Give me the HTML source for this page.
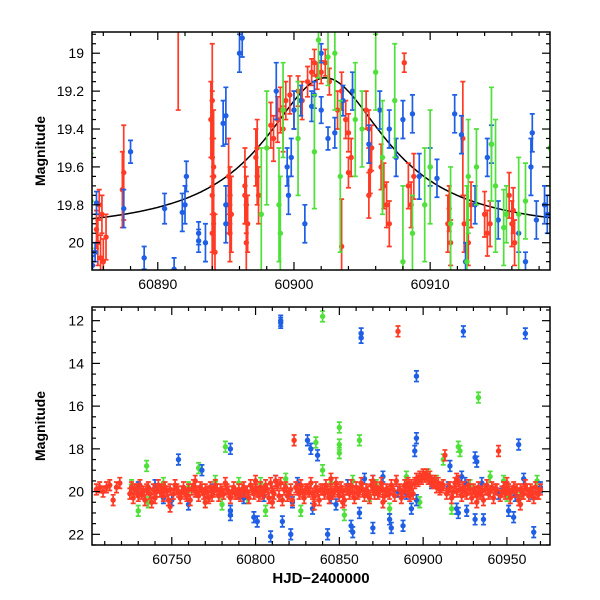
<!DOCTYPE html>
<html><head><meta charset="utf-8"><style>
html,body{margin:0;padding:0;background:#fff;}
svg{display:block;font-family:"Liberation Sans",sans-serif;}
</style></head><body>
<svg id="chart" width="600" height="600" viewBox="0 0 600 600">
<defs>
<clipPath id="clipTop"><rect x="92" y="32" width="458" height="238"/></clipPath>
<clipPath id="clipBot"><rect x="92" y="307" width="458" height="238"/></clipPath>
</defs>
<g id="top"></g>
<g id="bot"></g>
</svg>
<script>
// ---- Top panel data [t, mag, err] ----
const topRed = [[60885.5,19.93,0.1],[60885.6,20.0,0.12],[60885.8,20.08,0.12],[60885.9,19.85,0.1],[60886,20.1,0.12],[60886.2,19.97,0.12],[60885.7,19.8,0.08],
[60887.4,19.72,0.2],[60887.5,19.63,0.25],[60891.5,18.85,0.45],
[60893.9,19.35,0.2],[60894,19.45,0.25],[60894,19.55,0.3],[60894.1,19.65,0.2],[60894,19.75,0.3],[60894.1,19.85,0.2],[60894,19.95,0.3],[60894.2,20.05,0.2],[60894,19.25,0.3],[60894.1,19.6,0.3],
[60895.2,19.65,0.2],[60895.3,19.75,0.15],[60895.4,19.85,0.2],[60895.3,19.95,0.15],[60895.2,19.8,0.15],
[60896.4,19.7,0.2],[60896.5,19.8,0.15],[60896.6,19.9,0.15],[60896.5,20.0,0.2],[60896.4,19.75,0.15],
[60897.2,19.55,0.15],[60897.3,19.65,0.15],[60897.4,19.75,0.15],[60897.3,19.5,0.15],
[60898.3,19.38,0.12],[60898.5,19.45,0.12],[60898.8,19.35,0.12],[60899,19.3,0.12],[60899.2,19.4,0.12],[60899.4,19.25,0.1],
[60900,19.3,0.1],[60900.3,19.2,0.08],[60900.6,19.25,0.1],[60901,19.15,0.08],[60901.3,19.1,0.07],[60901.5,19.05,0.07],[60901.7,19.12,0.07],[60902,19.1,0.06],[60902.3,19.05,0.07],[60902.6,19.15,0.07],[60899.7,19.22,0.1],
[60903.2,19.3,0.1],[60903.5,19.2,0.1],[60903.8,19.35,0.1],[60904,19.42,0.1],[60904.2,19.55,0.1],[60904,19.63,0.08],[60903.5,20.02,0.25],
[60905.3,19.3,0.1],[60905.5,19.4,0.1],[60905.7,19.5,0.12],[60905.6,19.62,0.12],[60905.5,19.75,0.12],
[60906.4,19.6,0.12],[60906.6,19.7,0.12],[60906.8,19.8,0.12],[60907,19.9,0.12],[60908.1,19.05,0.05],
[60908.4,19.7,0.12],[60908.6,19.8,0.12],[60908.8,19.65,0.12],[60912.4,19.45,0.3],
[60911.3,19.9,0.15],[60911.5,20.0,0.12],[60911.4,19.82,0.12],[60912.5,19.9,0.15],[60912.8,20.0,0.12],[60913,19.8,0.12],
[60914,19.85,0.12],[60914.2,19.95,0.12],[60914.4,19.9,0.12],[60915.8,19.75,0.12],[60916,19.9,0.12],[60916.2,20.0,0.12],[60916.1,19.83,0.12]];
const topBlue = [[60885.2,20.12,0.05],[60885.4,20.05,0.05],[60885.5,19.79,0.06],[60887.5,19.82,0.1],[60888,19.52,0.06],[60890.5,19.82,0.08],[60891.8,19.84,0.1],[60892,19.8,0.1],[60892.1,19.65,0.08],[60893,19.95,0.06],[60893,19.99,0.06],[60893.5,20.0,0.1],[60891.2,20.14,0.06],[60889,20.08,0.06],[60894.8,19.37,0.12],[60895,19.33,0.15],[60895,19.8,0.1],[60895,19.9,0.1],[60896,19.0,0.1],[60896.2,18.92,0.1],[60898.7,19.2,0.15],[60899.5,19.6,0.1],[60899.6,19.75,0.1],[60899.8,19.55,0.1],[60900,19.3,0.1],[60900.5,19.25,0.08],[60901.3,19.28,0.08],[60901.5,19.22,0.07],[60902,19.3,0.07],[60902.5,19.45,0.06],[60902,19.0,0.05],[60903,19.42,0.08],[60903.6,19.25,0.08],[60904.3,19.2,0.1],[60905.5,19.48,0.1],[60906.3,19.3,0.1],[60907,19.4,0.1],[60907.5,19.55,0.1],[60908,19.35,0.1],[60908.7,19.32,0.1],[60909.2,19.65,0.12],[60910,19.6,0.1],[60910.5,19.66,0.1],[60911.8,19.32,0.1],[60912.3,19.43,0.1],[60913.3,19.8,0.1],[60914.2,19.55,0.1],[60914.5,19.48,0.1],[60915,19.88,0.1],[60916.5,19.95,0.1],[60917.5,19.42,0.1],[60917.4,19.6,0.15],[60917.8,19.88,0.1],[60918.4,19.8,0.1],[60918.6,19.85,0.1],[60900.8,19.9,0.1],[60912.6,20.1,0.1],[60917,20.1,0.05]];
const topGreen = [[60885.1,19.78,0.25],[60898,19.5,0.3],[60899,19.95,0.3],[60899.2,19.3,0.25],[60898.9,19.8,0.3],[60900.3,19.45,0.3],[60901.5,19.52,0.3],[60901.8,18.93,0.2],[60902.5,19.02,0.15],[60903,19.0,0.3],[60903.4,19.65,0.4],[60904.5,19.35,0.3],[60905,19.4,0.2],[60906,19.1,0.2],[60906.5,19.55,0.3],[60907.4,19.25,0.3],[60908,20.1,0.4],[60908.7,19.95,0.2],[60910,19.6,0.3],[60911.5,19.9,0.3],[60912.8,19.65,0.3],[60912.7,20.1,0.4],[60913.4,19.6,0.2],[60914.5,19.48,0.3],[60914.8,19.7,0.35],[60915.4,19.92,0.2],[60916.5,19.85,0.3],[60917,19.78,0.2],[60918.8,19.5,0.2],[60915.6,19.85,0.15],[60909.6,19.8,0.3],[60897.6,19.85,0.35]];
// ---- Bottom panel data [t, mag] ----
const botRed = [[60705,19.9],[60707,19.8],[60709,20.0],[60711,19.8],[60713,19.7],[60715,20.4],[60717,19.8],[60719,19.6],
[60725,20.1],[60726,19.8],[60727,20.3],[60728,19.9],[60730,20.2],[60731,19.7],[60733,20.0],[60734,20.4],[60736,19.8],[60737,20.1],[60739,19.9],[60740,20.3],[60742,19.7],[60743,20.0],[60745,20.2],[60746,19.8],[60748,20.4],[60749,19.9],[60751,20.1],[60752,19.7],[60754,20.0],[60755,20.3],[60757,19.8],[60758,20.1],[60760,19.9],[60761,20.4],[60763,19.7],[60764,20.0],[60766,20.2],[60767,19.8],[60769,20.1],[60770,19.9],[60772,20.3],[60773,19.8],[60775,20.0],[60776,19.7],[60778,20.2],[60779,19.9],[60781,20.1],[60782,19.6],[60784,20.0],[60785,20.3],[60787,19.8],[60788,20.1],[60790,19.9],[60791,20.2],[60793,19.8],[60794,20.0],[60796,20.3],[60797,19.7],[60799,20.1],[60800,19.9],[60802,20.2],[60803,19.8],[60805,20.0],[60806,19.7],[60808,20.3],[60809,19.6],[60811,20.1],[60812,19.5],[60814,20.2],[60815,19.6],[60816,20.4],[60818,19.8],[60819,20.2],[60821,19.9],[60822,20.4],[60823,17.6],[60824,19.8],[60826,20.1],[60827,19.7],[60829,20.3],[60830,19.9],[60832,20.0],[60833,19.6],[60835,20.2],[60836,19.8],[60838,20.4],[60839,19.9],[60841,20.1],[60842,19.7],[60844,20.3],[60845,19.9],[60847,20.0],[60848,19.6],[60850,20.2],[60851,19.8],[60853,20.4],[60854,19.9],[60856,20.1],[60857,19.7],[60859,20.3],[60860,19.8],[60862,20.0],[60863,19.6],[60865,20.2],[60866,19.9],[60868,20.3],[60869,19.7],[60871,20.1],[60872,19.8],[60874,20.0],[60875,19.6],[60877,20.2],[60878,19.9],[60880,20.1],[60881,19.7],[60883,20.2],[60884,19.5],[60885,12.5],[60886,19.9],[60887,20.3],[60889,19.7],[60890,20.0],[60891,19.6],[60892,20.2],[60893,19.7],[60894,20.1],[60895,19.6],[60896,19.4],[60897,19.5],[60898,19.3],[60899,19.4],[60900,19.2],[60901,19.3],[60902,19.2],[60903,19.4],[60904,19.3],[60905,19.5],[60906,19.6],[60907,19.5],[60908,19.8],[60909,19.6],[60910,19.9],[60912,19.7],[60913,18.3],[60914,20.1],[60916,19.8],[60917,20.3],[60919,19.6],[60920,20.0],[60921,19.5],[60923,20.2],[60924,19.8],[60926,20.1],[60927,19.7],[60929,20.3],[60930,19.9],[60932,20.2],[60933,19.8],[60935,20.0],[60936,20.4],[60938,19.7],[60939,20.1],[60941,19.8],[60942,20.3],[60944,19.9],[60945,18.1],[60946,20.2],[60948,19.8],[60949,20.1],[60951,19.9],[60952,20.3],[60954,19.8],[60955,20.0],[60957,20.4],[60958,19.9],[60960,20.1],[60961,19.7],[60963,20.2],[60964,19.9],[60966,20.3],[60967,19.8],[60969,20.1],[60970,19.9],
[60738,20.5],[60749,20.7],[60770,20.5],[60810,20.5],[60835,20.6],[60852,20.5],[60876,20.5],[60932,20.5],[60958,20.6],[60764,19.5],[60800,19.5],[60845,19.4],[60870,19.5],[60920,19.4],[60950,19.6],
[60729,19.9],[60732,20.1],[60735,19.9],[60741,20.0],[60744,19.9],[60747,20.0],[60753,19.9],[60756,20.0],[60759,20.2],[60762,19.9],[60765,20.0],[60768,19.9],[60771,20.0],[60774,20.2],[60777,19.9],[60780,20.0],[60783,19.9],[60786,20.0],[60789,20.1],[60792,19.9],[60795,20.0],[60798,19.9],[60801,20.0],[60804,20.1],[60807,19.9],[60810,20.0],[60813,19.7],[60817,19.9],[60820,20.1],[60825,19.9],[60828,20.0],[60831,19.9],[60834,20.1],[60837,20.0],[60840,19.9],[60843,20.0],[60846,20.1],[60849,19.9],[60852,20.0],[60855,19.9],[60858,20.0],[60861,20.1],[60864,19.9],[60867,20.0],[60870,19.9],[60873,20.1],[60876,19.9],[60879,20.0],[60882,19.9],[60888,20.0],[60892,19.8],[60911,19.8],[60915,19.9],[60918,20.0],[60922,19.9],[60925,20.0],[60928,19.9],[60931,20.0],[60934,20.1],[60937,19.9],[60940,20.0],[60943,19.9],[60947,20.0],[60950,19.9],[60953,20.0],[60956,19.9],[60959,20.0],[60962,19.9],[60965,20.0],[60968,20.1]];
const botBlue = [[60815,12.0],[60815,12.1],[60863,12.8],[60863,12.6],[60924,12.5],[60961,12.6],[60896,14.6],[60896,17.5],[60831,17.6],[60833,18.0],[60837,18.3],[60785,18.0],[60754,18.5],[60768,19.0],[60895,18.1],[60931,18.4],[60932,18.6],[60957,17.8],[60923,19.3],[60916,18.8],[60785,20.9],[60785,21.1],[60799,21.2],[60801,21.4],[60809,22.1],[60816,21.4],[60821,22.0],[60834,20.8],[60843,22.0],[60857,21.6],[60858,21.9],[60862,21.0],[60870,21.7],[60880,21.3],[60881,21.7],[60888,21.6],[60893,20.8],[60896,20.4],[60920,20.8],[60921,21.0],[60926,20.9],[60931,21.3],[60936,21.3],[60951,20.9],[60954,21.2],[60966,21.9],[60750,20.4],[60760,20.6],[60745,20.3],[60730,19.8],[60740,19.7],[60775,19.9],[60790,20.1],[60805,20.2],[60812,19.5],[60825,19.6],[60845,20.3],[60855,19.7],[60865,19.4],[60870,19.5],[60876,19.3],[60885,20.0],[60905,19.6],[60915,19.8],[60925,19.6],[60935,19.6],[60945,20.1],[60955,20.2],[60960,19.4],[60965,20.1],[60970,19.8],[60793,20.3],[60822,20.5],[60848,20.6],[60890,20.1]];
const botGreen = [[60840,11.8],[60933,15.6],[60850,17.0],[60862,17.6],[60850,17.8],[60850,18.2],[60836,17.7],[60782,17.9],[60735,18.8],[60766,18.9],[60921,17.9],[60922,18.1],[60912,18.5],[60840,19.0],[60730,20.9],[60736,20.5],[60770,20.5],[60780,20.6],[60806,20.9],[60827,20.9],[60853,21.1],[60880,20.8],[60898,20.5],[60917,20.8],[60726,19.7],[60745,19.6],[60760,19.8],[60776,19.5],[60790,19.6],[60803,19.6],[60818,19.4],[60845,19.6],[60858,19.5],[60872,19.7],[60890,19.3],[60903,19.2],[60908,19.5],[60928,19.7],[60940,19.3],[60948,19.5],[60968,19.5],[60795,20.3],[60868,20.2],[60950,20.2],[60958,20.3]];
const topXTicks = [60890, 60900, 60910];
const topYTicks = [19, 19.2, 19.4, 19.6, 19.8, 20];
const botXTicks = [60750, 60800, 60850, 60900, 60950];
const botYTicks = [12, 14, 16, 18, 20, 22];

const NS = "http://www.w3.org/2000/svg";
const RED = "#ff3b26", BLUE = "#1e5fe6", GREEN = "#4fe03a";
function mk(tag, attrs, parent) {
  const e = document.createElementNS(NS, tag);
  for (const k in attrs) e.setAttribute(k, attrs[k]);
  parent.appendChild(e); return e;
}
function panel(g, P) {
  const sx = t => P.x0 + (t - P.t0) / (P.t1 - P.t0) * (P.x1 - P.x0);
  const sy = m => P.y0 + (m - P.m0) / (P.m1 - P.m0) * (P.y1 - P.y0);
  const data = mk('g', {'clip-path': 'url(#' + P.clip + ')'}, g);
  
  
  if (P.model) {
    let d = '';
    for (let t = P.t0; t <= P.t1; t += 0.1) d += (d ? 'L' : 'M') + sx(t).toFixed(1) + ',' + sy(P.model(t)).toFixed(1);
    const c = mk('path', {d: d, fill: 'none', stroke: '#000', 'stroke-width': 1.5}, data);
    
    
  }
  P.series.forEach(s => {
    const sg = mk('g', {stroke: s.color, fill: s.color, 'stroke-width': 1.7}, data);
    
    
    s.data.forEach(p => {
      const x = sx(p[0]), y = sy(p[1]), e = p.length > 2 ? p[2] : P.err;
      const ya = sy(p[1] - e), yb = sy(p[1] + e);
      const pt = mk('g', {}, sg);
      
      
      mk('path', {d: `M${x},${ya}L${x},${yb}M${x-2.5},${ya}L${x+2.5},${ya}M${x-2.5},${yb}L${x+2.5},${yb}`, fill: 'none'}, pt);
      mk('circle', {cx: x, cy: y, r: 2.7, stroke: 'none'}, pt);
    });
  });
  const fr = mk('rect', {x: P.x0, y: P.y0, width: P.x1 - P.x0, height: P.y1 - P.y0, fill: 'none', stroke: '#000', 'stroke-width': 1.5}, g);
  
  
  const tk = mk('g', {stroke: '#000', 'stroke-width': 1.2}, g);
  
  
  const eps = 1e-6;
  for (let t = Math.ceil(P.t0 / P.xMinor) * P.xMinor; t <= P.t1; t += P.xMinor) {
    const major = Math.abs(t / P.xMajor - Math.round(t / P.xMajor)) < eps;
    const L = major ? 8 : 4, x = sx(t);
    mk('line', {x1: x, x2: x, y1: P.y1, y2: P.y1 - L}, tk);
    mk('line', {x1: x, x2: x, y1: P.y0, y2: P.y0 + L}, tk);
  }
  const n0 = Math.ceil(P.m0 / P.yMinor - eps), n1 = Math.floor(P.m1 / P.yMinor + eps);
  for (let n = n0; n <= n1; n++) {
    const m = n * P.yMinor;
    const major = Math.abs(m / P.yMajor - Math.round(m / P.yMajor)) < 1e-4;
    const L = major ? 8 : 4, y = sy(m);
    mk('line', {x1: P.x0, x2: P.x0 + L, y1: y, y2: y}, tk);
    mk('line', {x1: P.x1, x2: P.x1 - L, y1: y, y2: y}, tk);
  }
  P.xTicks.forEach(t => {
    const tx = mk('text', {x: sx(t), y: P.y1 + 19, 'text-anchor': 'middle', 'font-size': 14}, g);
    tx.textContent = t;
    
    
  });
  P.yTicks.forEach(m => {
    const tx = mk('text', {x: P.x0 - 8, y: sy(m) + 5, 'text-anchor': 'end', 'font-size': 14}, g);
    tx.textContent = m;
    
    
  });
  const yt = mk('text', {x: 0, y: 0, 'text-anchor': 'middle', 'font-size': 14, 'font-weight': 'bold', transform: `translate(${P.x0 - 47},${(P.y0 + P.y1) / 2}) rotate(-90)`}, g);
  yt.textContent = 'Magnitude';
  
  
  if (P.xTitle) {
    const xt = mk('text', {x: (P.x0 + P.x1) / 2, y: P.y1 + 38, 'text-anchor': 'middle', 'font-size': 15, 'font-weight': 'bold'}, g);
    xt.textContent = P.xTitle;
    
    
  }
}
panel(document.getElementById('top'), {
  name: 'top', clip: 'clipTop', x0: 92, x1: 550, y0: 32, y1: 270,
  t0: 60885.17, t1: 60918.8, m0: 18.888, m1: 20.144,
  xMinor: 2, xMajor: 10, yMinor: 0.05, yMajor: 0.2,
  xTicks: topXTicks, yTicks: topYTicks,
  model: t => 19.95 - 0.82 / (1 + Math.pow((t - 60902.3) / 5.5, 2)),
  series: [{label: 'red', color: RED, data: topRed}, {label: 'blue', color: BLUE, data: topBlue}, {label: 'green', color: GREEN, data: topGreen}]
});
panel(document.getElementById('bot'), {
  name: 'bottom', clip: 'clipBot', x0: 92, x1: 550, y0: 307, y1: 545,
  t0: 60702.4, t1: 60975.7, m0: 11.36, m1: 22.5, err: 0.25,
  xMinor: 10, xMajor: 50, yMinor: 0.5, yMajor: 2,
  xTicks: botXTicks, yTicks: botYTicks, xTitle: 'HJD\u22122400000',
  series: [{label: 'green', color: GREEN, data: botGreen}, {label: 'blue', color: BLUE, data: botBlue}, {label: 'red', color: RED, data: botRed}]
});
</script>
</body></html>
